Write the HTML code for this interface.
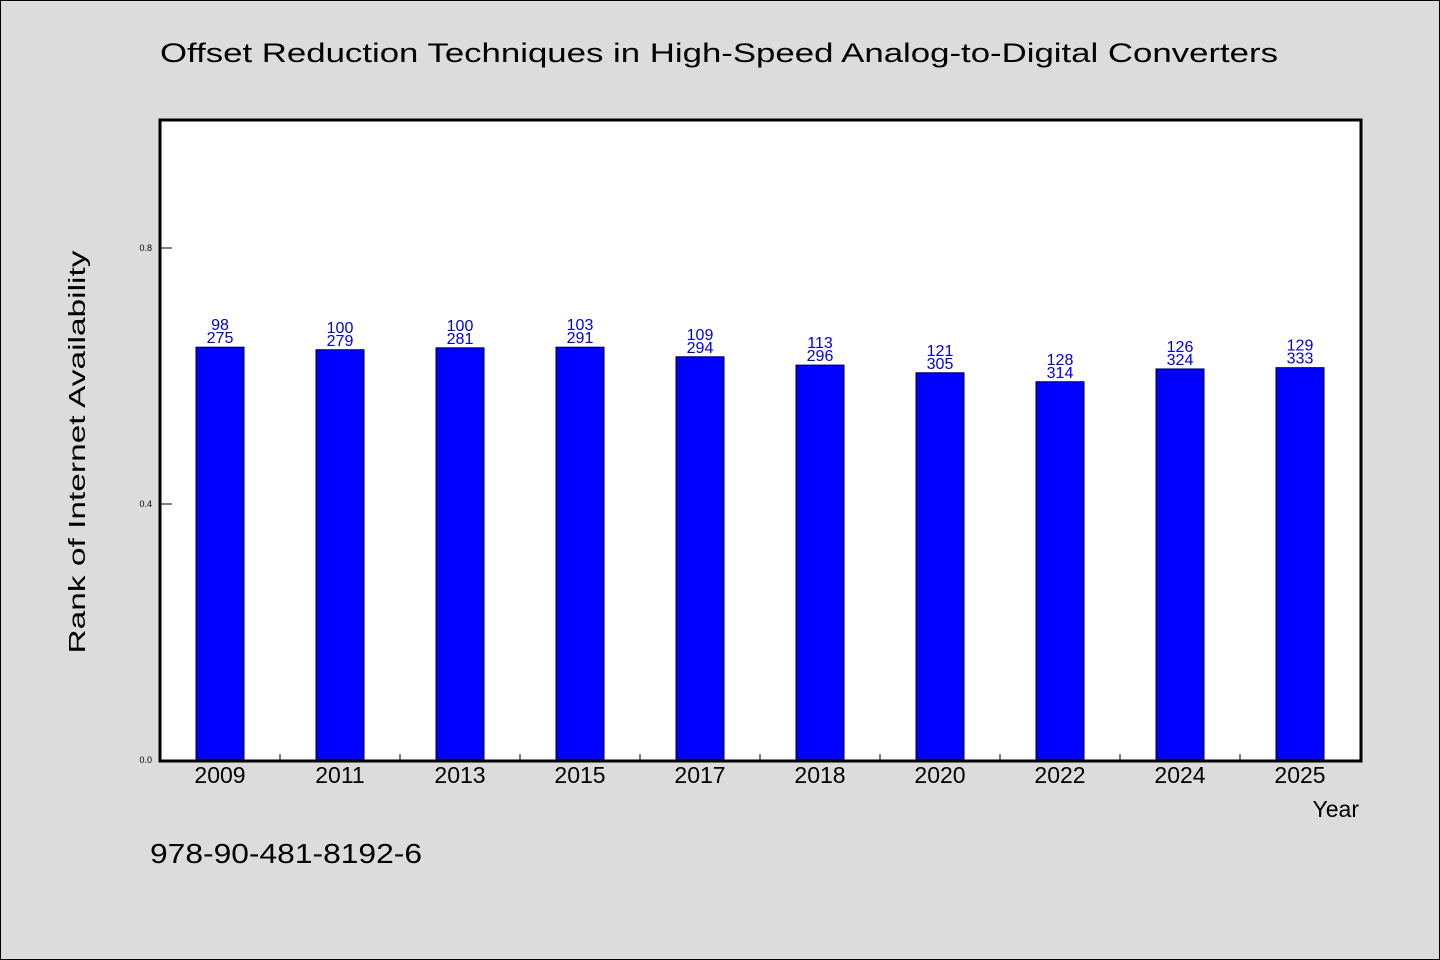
<!DOCTYPE html>
<html><head><meta charset="utf-8"><style>
html,body{margin:0;padding:0;background:#dcdcdc;}
svg{display:block;font-family:"WenQuanYi Zen Hei Mono","WenQuanYi Zen Hei","Liberation Sans",sans-serif;}
</style></head><body>
<svg id="chart" width="1440" height="960" xmlns="http://www.w3.org/2000/svg">
<rect x="0.5" y="0.5" width="1439" height="959" fill="#dcdcdc" stroke="#000"/>
<text x="160" y="62" font-size="27" textLength="1118" lengthAdjust="spacingAndGlyphs" fill="#000">Offset Reduction Techniques in High-Speed Analog-to-Digital Converters</text>
<rect x="160" y="120" width="1201" height="641" fill="#fff"/>
<g id="marks"></g>
<rect x="160" y="120" width="1201" height="641" fill="none" stroke="#000" stroke-width="3"/>
<text transform="translate(85,452) rotate(-90)" text-anchor="middle" font-size="23" textLength="403" lengthAdjust="spacingAndGlyphs" fill="#000">Rank of Internet Availability</text>
<text x="1359" y="817" text-anchor="end" font-size="23" fill="#000">Year</text>
<text x="150" y="863" font-size="28" textLength="272" lengthAdjust="spacingAndGlyphs" fill="#000">978-90-481-8192-6</text>
</svg>
<script>
const categories = ["2009","2011","2013","2015","2017","2018","2020","2022","2024","2025"];
const values = [0.645,0.641,0.644,0.645,0.630,0.617,0.605,0.591,0.611,0.613];
const labelTop = ["98","100","100","103","109","113","121","128","126","129"];
const labelBottom = ["275","279","281","291","294","296","305","314","324","333"];
const yTicks = [0.0,0.4,0.8];
const yTickLabels = ["0.0","0.4","0.8"];

const NS="http://www.w3.org/2000/svg";
const X0=160, X1=1360, Y0=760, YH=640;
const step=(X1-X0)/categories.length;
const xc=i=>X0+step*(i+0.5);
const ys=v=>Y0-v*YH;
const g=document.getElementById('marks');
function mk(tag,attrs){const e=document.createElementNS(NS,tag);for(const k in attrs)e.setAttribute(k,attrs[k]);g.appendChild(e);return e;}
yTicks.forEach((t,i)=>{
  const l=mk('line',{x1:X0,x2:X0+12,y1:ys(t),y2:ys(t),stroke:'#000','stroke-width':1});
  
  
  const tx=mk('text',{x:X0-8,y:ys(t)+3,'text-anchor':'end','font-size':9,fill:'#000'});
  tx.textContent=yTickLabels[i];
  
  
});
categories.forEach((c,i)=>{
  if(i>0){
    const tk=mk('line',{x1:X0+step*i,x2:X0+step*i,y1:Y0,y2:Y0-6,stroke:'#000','stroke-width':1});
    
    
  }
  const top=ys(values[i]);
  const b=mk('rect',{x:xc(i)-24,y:top,width:48,height:Y0-top,fill:'#0000ff',stroke:'#000','stroke-width':1});
  
  
  const t1=mk('text',{x:xc(i),y:top-17,'text-anchor':'middle','font-size':16,fill:'#0000dd'});
  t1.textContent=labelTop[i];
  
  
  const t2=mk('text',{x:xc(i),y:top-4,'text-anchor':'middle','font-size':16,fill:'#0000dd'});
  t2.textContent=labelBottom[i];
  
  
  const xl=mk('text',{x:xc(i),y:Y0+23,'text-anchor':'middle','font-size':23,fill:'#000'});
  xl.textContent=c;
  
  
});
</script>
</body></html>
